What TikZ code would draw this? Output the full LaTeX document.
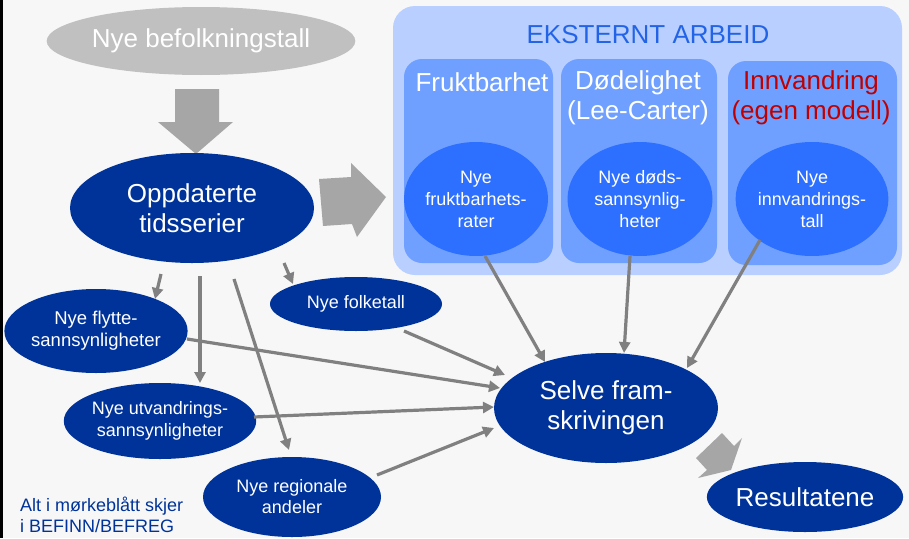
\documentclass[tikz,border=0pt]{standalone}
\usepackage{fontspec}
\setmainfont{Liberation Sans}
\usetikzlibrary{shapes.geometric,arrows.meta,calc}
\definecolor{bgc}{RGB}{247,247,247}
\definecolor{navy}{RGB}{0,51,153}
\definecolor{grayell}{RGB}{192,192,192}
\definecolor{blockgray}{RGB}{166,166,166}
\definecolor{conngray}{RGB}{128,128,128}
\definecolor{extbg}{RGB}{185,207,255}
\definecolor{inbox}{RGB}{112,160,255}
\definecolor{inell}{RGB}{45,112,255}
\definecolor{titleblue}{RGB}{35,100,230}
\definecolor{redtxt}{RGB}{192,0,0}
\newcommand\fsz[2]{\fontsize{#1}{#2}\selectfont}
\begin{document}
\begin{tikzpicture}[x=1pt,y=-1pt,
  ell/.style={ellipse, inner sep=0pt, align=center, text=white},
  navyell/.style={ell, fill=navy},
  blueell/.style={ell, fill=inell, font=\fsz{18}{22}},
  bigtxt/.style={font=\fsz{26}{30}},
  smalltxt/.style={font=\fsz{18}{22}},
  panel/.style={fill=inbox, rounded corners=18pt, inner sep=0pt},
  conn/.style={draw=conngray, line width=3.2pt, -{Triangle[length=11pt,width=11pt]}},
  blockarrow/.style={fill=blockgray}
]
\fill[bgc] (0,0) rectangle (909,538);
\fill[black] (0,0) rectangle (2.5,538);
\useasboundingbox (0,0) rectangle (909,538);

% external work container
\node[fill=extbg, rounded corners=22pt, inner sep=0pt, minimum width=509, minimum height=269] (ext) at (647.5,140.5) {};
\node[panel, minimum width=149, minimum height=204] (b1) at (478.5,161) {};
\node[panel, minimum width=156, minimum height=204] (b2) at (639,161) {};
\node[panel, minimum width=169, minimum height=204] (b3) at (812.5,163) {};
\node[text=titleblue, font=\fsz{26}{30}] (title) at (648,35) {EKSTERNT ARBEID};
\node[text=white, bigtxt] (h1) at (482,82) {Fruktbarhet};
\node[text=white, bigtxt, align=center] (h2) at (638,98) {Dødelighet\\(Lee-Carter)};
\node[text=redtxt, bigtxt, align=center] (h3) at (811,98) {Innvandring\\(egen modell)};

\node[blueell, minimum width=144, minimum height=114] (e1) at (476,199) {Nye\\fruktbarhets-\\rater};
\node[blueell, minimum width=145, minimum height=114] (e2) at (640,199) {Nye døds-\\sannsynlig-\\heter};
\node[blueell, minimum width=143, minimum height=114] (e3) at (812,199) {Nye\\innvandrings-\\tall};

% block arrows
\fill[blockarrow] (175,89) -- (219,89) -- (219,122) -- (233,122) -- (196,154) -- (158,122) -- (175,122) -- cycle;
\fill[blockarrow] (319,179) -- (351,177) -- (351,163) -- (386,197) -- (357,237) -- (352,224) -- (323,226) -- cycle;
\fill[blockarrow] (722,433) -- (734,446) -- (742,438) -- (731,470) -- (698,478) -- (707,470) -- (696,458) -- cycle;

% dark blue nodes
\node[ell, fill=grayell, minimum width=296, minimum height=68, font=\fsz{26}{30}] (bef) at (201,41) {Nye befolkningstall};
\node[navyell, bigtxt, minimum width=244, minimum height=110] (opp) at (192,208) {Oppdaterte\\tidsserier};
\node[navyell, smalltxt, minimum width=172, minimum height=54] (folk) at (356,304) {Nye folketall};
\node[navyell, font=\fsz{18.5}{22}, minimum width=174, minimum height=84] (flytte) at (96,331) {Nye flytte-\\sannsynligheter};
\node[navyell, smalltxt, minimum width=180, minimum height=76] (utv) at (160,421) {Nye utvandrings-\\sannsynligheter};
\node[navyell, font=\fsz{18}{21}, minimum width=178, minimum height=80] (reg) at (292,497) {Nye regionale\\andeler};
\node[navyell, bigtxt, minimum width=224, minimum height=110] (selve) at (606,408) {Selve fram-\\skrivingen};
\node[navyell, bigtxt, minimum width=194, minimum height=70] (res) at (805,497) {Resultatene};

\node[text=navy, font=\fsz{18}{21}, align=left, anchor=west, inner sep=0pt] (note) at (20,515) {Alt i mørkeblått skjer\\i BEFINN/BEFREG};

% connectors
\draw[conn] ($(opp)+(-31,66)$) -- ($(flytte)+(59,-32)$);
\draw[conn] ($(opp)+(8,68)$) -- ($(utv)+(40,-38)$);
\draw[conn] ($(opp)+(42,71)$) -- ($(reg)+(-3,-47)$);
\draw[conn] ($(opp)+(92,55)$) -- ($(folk)+(-63,-20)$);
\draw[conn] ($(flytte)+(91,8)$) -- ($(selve)+(-106,-20)$);
\draw[conn] ($(utv)+(94,-4)$) -- ($(selve)+(-112,-1)$);
\draw[conn] ($(reg)+(85,-22)$) -- ($(selve)+(-112,20)$);
\draw[conn] ($(folk)+(48,27)$) -- ($(selve)+(-101,-33)$);
\draw[conn] ($(e1)+(9,57)$) -- ($(selve)+(-61,-46)$);
\draw[conn] ($(e2)+(-10,57)$) -- ($(selve)+(18,-55)$);
\draw[conn] ($(e3)+(-52,41)$) -- ($(selve)+(81,-40)$);
\end{tikzpicture}
\end{document}
